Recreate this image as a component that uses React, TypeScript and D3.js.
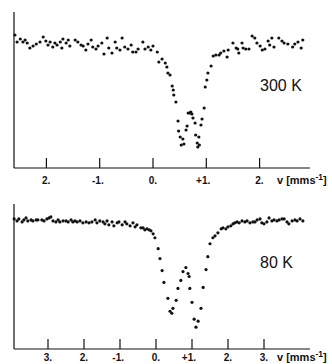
import React from "react";
import * as d3 from "d3";

// ---- Data: 300 K spectrum (velocity mm/s, relative transmission %) ----
const v300 = [-2.59,-2.55,-2.49,-2.44,-2.40,-2.36,-2.31,-2.25,-2.19,-2.12,-2.06,-2.01,-1.97,-1.93,-1.88,-1.84,-1.80,-1.74,-1.71,-1.69,-1.63,-1.59,-1.56,-1.46,-1.41,-1.35,-1.31,-1.26,-1.22,-1.16,-1.13,-1.07,-1.03,-0.96,-0.92,-0.86,-0.83,-0.77,-0.71,-0.68,-0.62,-0.58,-0.53,-0.47,-0.41,-0.38,-0.32,-0.28,-0.19,-0.15,-0.09,-0.04,0.00,0.08,0.11,0.17,0.23,0.26,0.28,0.32,0.36,0.38,0.39,0.43,0.47,0.48,0.51,0.53,0.56,0.58,0.62,0.64,0.66,0.69,0.71,0.73,0.75,0.79,0.80,0.83,0.84,0.86,0.87,0.90,0.92,0.96,0.98,1.01,1.03,1.09,1.13,1.18,1.24,1.27,1.33,1.39,1.41,1.50,1.56,1.59,1.61,1.67,1.69,1.74,1.80,1.86,1.91,1.95,2.01,2.05,2.10,2.16,2.19,2.23,2.27,2.36,2.42,2.46,2.53,2.62,2.66,2.72,2.78,2.81];
const t300 = [100.7,100.0,100.3,100.0,100.2,99.9,99.4,99.6,99.8,100.0,100.5,100.1,99.7,100.0,99.5,99.9,99.7,100.0,99.4,100.3,99.9,100.2,99.6,100.2,100.0,99.7,99.6,99.2,99.8,100.2,99.5,99.3,99.6,99.9,98.8,100.4,99.4,98.9,100.0,99.4,99.2,100.4,99.5,99.3,99.7,99.0,99.0,99.3,100.0,99.3,99.5,99.2,99.6,99.0,98.0,98.3,97.9,97.5,96.9,96.7,95.6,95.2,94.7,94.0,92.1,91.1,90.5,89.7,90.3,89.8,91.2,91.6,92.9,92.9,93.0,92.8,92.4,91.9,90.7,89.9,89.5,90.5,89.7,91.7,92.3,93.4,95.5,96.2,96.9,97.6,98.6,98.7,98.7,98.9,99.1,98.5,99.2,99.9,99.4,99.3,98.9,99.9,99.4,99.3,99.3,100.6,100.4,99.9,99.6,99.2,99.3,100.1,99.7,100.4,99.5,100.4,100.1,99.9,99.8,99.5,99.8,100.0,99.4,100.2];

// ---- Data: 80 K spectrum ----
const v80 = [-3.94,-3.86,-3.81,-3.72,-3.67,-3.61,-3.56,-3.47,-3.42,-3.33,-3.28,-3.17,-3.11,-3.03,-2.97,-2.92,-2.86,-2.78,-2.72,-2.67,-2.58,-2.50,-2.44,-2.36,-2.31,-2.25,-2.19,-2.11,-2.03,-1.94,-1.86,-1.78,-1.69,-1.64,-1.56,-1.47,-1.42,-1.36,-1.31,-1.22,-1.17,-1.08,-1.03,-0.94,-0.86,-0.81,-0.72,-0.64,-0.58,-0.53,-0.42,-0.36,-0.31,-0.25,-0.19,-0.14,-0.08,-0.03,0.06,0.11,0.17,0.22,0.33,0.39,0.44,0.47,0.56,0.61,0.69,0.75,0.83,0.89,0.92,0.94,1.00,1.06,1.11,1.17,1.25,1.31,1.39,1.44,1.50,1.58,1.64,1.72,1.81,1.86,1.94,2.00,2.08,2.14,2.19,2.25,2.31,2.39,2.47,2.53,2.61,2.69,2.75,2.81,2.89,2.94,3.00,3.08,3.14,3.22,3.28,3.36,3.42,3.50,3.56,3.64,3.69,3.78,3.86,3.92,4.00,4.08];
const t80 = [100.1,99.9,100.1,99.8,100.0,100.2,99.9,100.0,99.9,100.0,100.0,100.0,99.9,100.1,100.2,100.3,99.9,99.8,100.0,99.8,99.9,99.9,99.8,100.0,99.8,99.9,99.8,99.9,99.7,99.8,99.7,99.8,100.0,99.7,99.9,99.8,99.6,99.9,99.5,99.8,99.4,99.7,99.8,99.5,99.8,99.6,99.4,99.7,99.3,99.5,99.2,99.2,99.0,99.1,99.0,98.9,98.6,98.2,97.1,96.1,94.9,93.7,92.1,90.8,90.6,91.1,91.9,93.1,93.9,94.8,95.2,94.6,94.3,93.1,91.7,90.0,89.2,89.8,91.1,93.2,95.0,96.3,97.6,98.2,98.4,98.7,99.1,99.2,99.1,99.3,99.4,99.6,99.7,99.8,99.7,99.9,99.8,99.9,99.7,99.8,99.8,100.0,100.1,99.7,99.6,99.8,100.2,99.9,100.0,99.9,100.0,100.1,100.1,99.8,99.6,99.9,100.0,99.9,100.1,99.9];

// ---- Tick labels ----
const ticks300 = [-2, -1, 0, 1, 2];
const tickLabels300 = ["2.", "-1.", "0.", "+1.", "2."];
const ticks80 = [-3, -2, -1, 0, 1, 2, 3];
const tickLabels80 = ["3.", "2.", "-1.", "0.", "+1.", "2.", "3."];
const label300 = "300 K";
const label80 = "80 K";

type PanelProps = {
  vs: number[];
  ts: number[];
  xDomain: [number, number];
  yDomain: [number, number];
  top: number;
  bottom: number;
  ticks: number[];
  tickLabels: string[];
  label: string;
  labelY: number;
  tickTextY: number;
};

const LEFT = 14;
const RIGHT = 310;
const FONT = "'Liberation Sans', Arial, sans-serif";

function Panel(p: PanelProps) {
  const x = d3.scaleLinear().domain(p.xDomain).range([LEFT, RIGHT]);
  const y = d3.scaleLinear().domain(p.yDomain).range([p.bottom, p.top]);
  return (
    <g>
      <line x1={LEFT} x2={LEFT} y1={p.top} y2={p.bottom} stroke="#111" strokeWidth={1.2} />
      <line x1={LEFT} x2={RIGHT} y1={p.bottom} y2={p.bottom} stroke="#111" strokeWidth={1.2} />
      {p.ticks.map((t, i) => (
        <g key={i}>
          <line x1={x(t)} x2={x(t)} y1={p.bottom} y2={p.bottom - 10} stroke="#111" strokeWidth={1.2} />
          <text x={x(t) + 4} y={p.tickTextY} textAnchor="end" fontSize={10} fontWeight="bold" fontFamily={FONT} fill="#111">
            {p.tickLabels[i]}
          </text>
        </g>
      ))}
      <text x={277} y={p.tickTextY} fontSize={11} fontWeight="bold" fontFamily={FONT} fill="#111">
        v [mms<tspan fontSize={8.5} dy={-4}>-1</tspan><tspan dy={4}>]</tspan>
      </text>
      {p.vs.map((v, i) => (
        <circle key={i} cx={x(v)} cy={y(p.ts[i])} r={1.6} fill="#111" />
      ))}
      <text x={260} y={p.labelY} fontSize={16} fontFamily={FONT} fill="#111">
        {p.label}
      </text>
    </g>
  );
}

export default function App() {
  return (
    <svg width={332} height={364} style={{ position: "absolute", left: 0, top: 0, background: "#fff" }}>
      <Panel
        vs={v300}
        ts={t300}
        xDomain={[(LEFT - 153) / 53.3, (RIGHT - 153) / 53.3]}
        yDomain={[87.4, 103]}
        top={12}
        bottom={168}
        ticks={ticks300}
        tickLabels={tickLabels300}
        label={label300}
        labelY={91}
        tickTextY={184}
      />
      <Panel
        vs={v80}
        ts={t80}
        xDomain={[(LEFT - 156) / 36, (RIGHT - 156) / 36]}
        yDomain={[87.0, 101.6]}
        top={204}
        bottom={349}
        ticks={ticks80}
        tickLabels={tickLabels80}
        label={label80}
        labelY={268}
        tickTextY={361}
      />
    </svg>
  );
}
